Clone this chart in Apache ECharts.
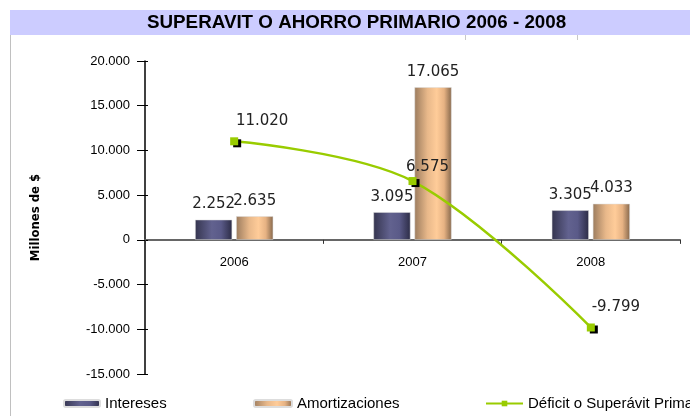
<!DOCTYPE html>
<html><head><meta charset="utf-8">
<script src="https://cdn.jsdelivr.net/npm/echarts@6/dist/echarts.min.js"></script>
<style>html,body{margin:0;padding:0;background:#fff}#c{width:690px;height:416px}</style>
</head><body><div id="c"></div>
<script>
var categories = ['2006', '2007', '2008'];
var intereses = [2252, 3095, 3305];
var amortizaciones = [2635, 17065, 4033];
var deficit = [11020, 6575, -9799];
var seriesNames = ['Intereses', 'Amortizaciones', 'Déficit o Superávit Primario'];
var titleText = 'SUPERAVIT O AHORRO PRIMARIO 2006 - 2008';
var axisName = 'Millones de $';
// label offsets for line labels (style only)
var lineLabelOffsets = [[28, -3], [15, 4], [25, -3]];

function fmt(v) {
  var s = Math.abs(v).toString().replace(/\B(?=(\d{3})+(?!\d))/g, '.');
  return (v < 0 ? '-' : '') + s;
}
var font = 'Liberation Sans, Arial, sans-serif';
var dfont = 'DejaVu Sans, sans-serif';
var chart = echarts.init(document.getElementById('c'));
var labelStyle = {show: true, position: 'top', distance: 8, fontFamily: dfont, fontSize: 15, color: '#222',
  formatter: function (p) { return fmt(p.value); }};
var legendText = {fontFamily: font, fontSize: 15, color: '#000', padding: 0};

chart.setOption({
  animation: false,
  graphic: [
    {type: 'rect', shape: {x: 10, y: 10, width: 680, height: 25}, style: {fill: '#CCCCFF'}, z: 0},
    {type: 'line', shape: {x1: 10.5, y1: 35, x2: 10.5, y2: 416}, style: {stroke: '#C0C0C0', lineWidth: 1}},
    {type: 'line', shape: {x1: 465.5, y1: 35, x2: 465.5, y2: 40}, style: {stroke: '#C8C8C8', lineWidth: 1}},
    {type: 'line', shape: {x1: 577.5, y1: 35, x2: 577.5, y2: 40}, style: {stroke: '#C8C8C8', lineWidth: 1}},
    {type: 'text', left: 147, top: 13, style: {text: titleText, font: 'bold 18.8px ' + font, fill: '#000'}, z: 2}
  ],
  grid: {left: 145, right: 10, top: 61, bottom: 42, containLabel: false},
  legend: [
    {data: [seriesNames[0]], left: 63, top: 396, padding: 0, itemWidth: 36, itemHeight: 7, textStyle: legendText},
    {data: [seriesNames[1]], left: 253, top: 396, padding: 0, itemWidth: 38, itemHeight: 7, textStyle: legendText},
    {data: [seriesNames[2]], left: 485, top: 396, padding: 0, itemWidth: 37, itemHeight: 7, textStyle: legendText}
  ],
  xAxis: {
    type: 'category', data: categories,
    axisLine: {onZero: true, lineStyle: {color: '#666', width: 2}},
    axisTick: {show: true, length: 4, lineStyle: {color: '#333'}},
    axisLabel: {fontFamily: font, fontSize: 13, color: '#000', margin: -118},
    splitLine: {show: false}
  },
  yAxis: [{
    type: 'value', min: -15000, max: 20000, interval: 5000,
    name: axisName, nameLocation: 'middle', nameGap: 103, nameRotate: 90,
    nameTextStyle: {fontFamily: 'DejaVu Sans Condensed, Liberation Sans Narrow, sans-serif', fontWeight: 'bold', fontSize: 13, color: '#000'},
    axisLine: {show: true, lineStyle: {color: '#000', width: 1.5}},
    axisTick: {show: true, length: 8, lineStyle: {color: '#000'}},
    axisLabel: {fontFamily: font, fontSize: 13, color: '#000', margin: 15, formatter: function (v) { return fmt(v); }},
    splitLine: {show: false}
  }, {
    type: 'value', min: -15000, max: 20000, interval: 5000, position: 'left',
    axisLine: {show: false},
    axisTick: {show: true, inside: true, length: 3, lineStyle: {color: '#000'}},
    axisLabel: {show: false}, splitLine: {show: false}
  }],
  series: [
    {name: seriesNames[0], type: 'bar', data: intereses, barWidth: 37, barGap: '11%',
     itemStyle: {color: new echarts.graphic.LinearGradient(0, 0, 1, 0, [
       {offset: 0, color: '#35354F'}, {offset: 0.45, color: '#62628F'}, {offset: 0.7, color: '#5A5A88'}, {offset: 1, color: '#2C2C46'}]),
       borderColor: '#ddd', borderWidth: 0.5},
     label: labelStyle},
    {name: seriesNames[1], type: 'bar', data: amortizaciones, barWidth: 37,
     itemStyle: {color: new echarts.graphic.LinearGradient(0, 0, 1, 0, [
       {offset: 0, color: '#9C7C5E'}, {offset: 0.35, color: '#E8B88A'}, {offset: 0.6, color: '#FFCC99'}, {offset: 0.8, color: '#E6B283'}, {offset: 1, color: '#86684C'}]),
       borderColor: '#ddd', borderWidth: 0.5},
     label: labelStyle},
    {name: seriesNames[2], type: 'line', smooth: 0.35, z: 5,
     data: deficit.map(function (v, i) {
       return {value: v, label: {offset: lineLabelOffsets[i]}};
     }),
     symbol: 'rect', symbolSize: 8,
     lineStyle: {color: '#99CC00', width: 2.5},
     itemStyle: {color: '#99CC00', shadowColor: '#000', shadowOffsetX: 3, shadowOffsetY: 2, shadowBlur: 0},
     label: {show: true, position: 'top', distance: 6, fontFamily: dfont, fontSize: 15, color: '#222',
       formatter: function (p) { return fmt(p.value); }}}
  ]
});
</script></body></html>
